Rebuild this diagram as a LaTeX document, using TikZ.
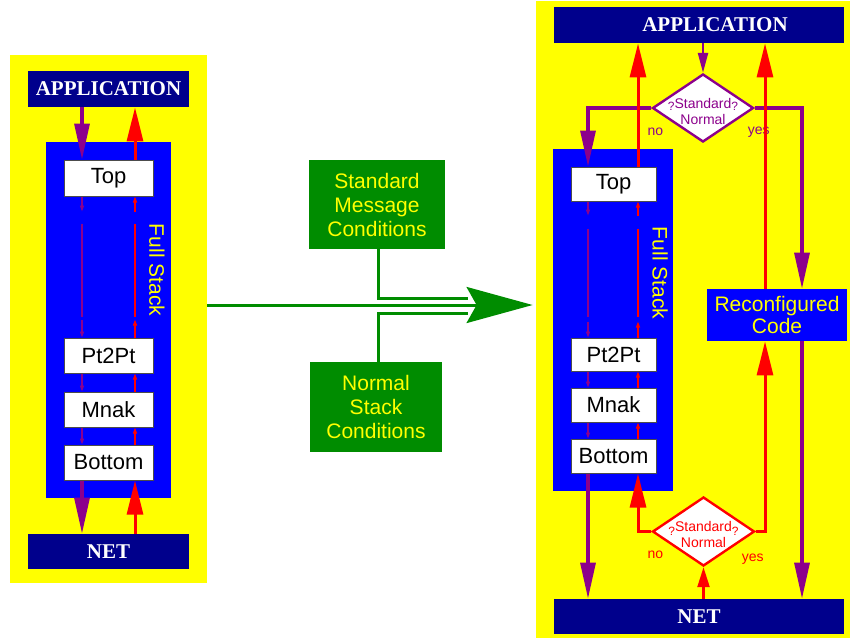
\documentclass[tikz,border=0pt]{standalone}
\usepackage{fontspec}
\setmainfont{Liberation Sans}
\newfontfamily\serifbf{Liberation Serif}
\usetikzlibrary{arrows.meta,shapes.geometric}
\definecolor{navy}{RGB}{0,0,140}
\definecolor{stkblue}{RGB}{0,0,255}
\definecolor{pnl}{RGB}{255,255,0}
\definecolor{purp}{RGB}{140,0,140}
\definecolor{grn}{RGB}{0,140,0}

\begin{document}
\begin{tikzpicture}[x=0.5pt, y=-0.5pt,
	panel/.style={fill=pnl, inner sep=0pt},
	endbox/.style={fill=navy, text=white, inner sep=0pt, minimum height=18pt, font=\serifbf\bfseries\fontsize{10.5}{12}\selectfont},
	stack/.style={fill=stkblue, inner sep=0pt},
	layer/.style={fill=white, draw=black!70, line width=0.5pt, inner sep=0pt, minimum height=17.5pt, font=\fontsize{11}{13}\selectfont},
	cond/.style={fill=grn, text=pnl, inner sep=0pt, align=center, font=\fontsize{10.5}{12}\selectfont},
	test/.style={diamond, fill=white, line width=1.2pt, inner sep=0pt},
	qtext/.style={align=center, font=\fontsize{7}{8}\selectfont},
	qmark/.style={},
	lbl/.style={font=\fontsize{7}{8}\selectfont},
	bigp/.style={purp, line width=1.6pt, -{Triangle[length=18pt,width=7.5pt]}},
	bigr/.style={red, line width=1.5pt, -{Triangle[length=17pt,width=8pt]}},
	medp/.style={purp, line width=1.2pt, -{Triangle[length=10pt,width=5pt]}},
	medr/.style={red, line width=1.2pt, -{Triangle[length=10pt,width=6pt]}},
	thinp/.style={purp, line width=0.6pt, -{Triangle[length=3pt,width=2pt]}},
	thinr/.style={red, line width=0.6pt, -{Triangle[length=3pt,width=2pt]}}]
	\useasboundingbox (0,0) rectangle (850,638);
	
	% left: full stack
	\node[panel, minimum width=98.5pt, minimum height=264pt](PAN1) at (108.5,319){};
	\node[endbox, minimum width=80.5pt](APP1) at (108.5,89){APPLICATION};
	\node[endbox, minimum width=80.5pt, minimum height=17.5pt](NET1) at (108.5,551.5){NET};
	\node[stack, minimum width=62.5pt, minimum height=178pt](STK1) at (108.5,320){};
	\node[layer, minimum width=44.5pt, minimum height=18pt](TOP1) at (108.5,178){Top};
	\node[layer, minimum width=44.5pt](PTP1) at (108.5,355.5){Pt2Pt};
	\node[layer, minimum width=44.5pt](MNK1) at (108.5,409.5){Mnak};
	\node[layer, minimum width=44.5pt](BOT1) at (108.5,462.5){Bottom};
	\node[rotate=-90, text=pnl, font=\fontsize{10.5}{12}\selectfont](FS1) at (157,270){Full Stack};
	
	\coordinate(DN1) at (82,0);
	\coordinate(UP1) at (135,0);
	
	\draw[bigp] (APP1.south -| DN1) -- (TOP1.north -| DN1);
	\draw[bigr] (TOP1.north -| UP1) -- (APP1.south -| UP1);
	\draw[bigp] (BOT1.south -| DN1) -- (NET1.north -| DN1);
	\draw[bigr] (NET1.north -| UP1) -- (BOT1.south -| UP1);
	
	% right: reconfigured stack
	\node[panel, minimum width=157pt, minimum height=318.5pt](PAN2) at (693,319.5){};
	\node[endbox, minimum width=145pt](APP2) at (699,25){\hspace{16pt}APPLICATION};
	\node[endbox, minimum width=145pt, minimum height=17.5pt](NET2) at (699,616.5){NET};
	\node[stack, minimum width=60pt, minimum height=171pt](STK2) at (613,320){};
	\node[layer, minimum width=42.5pt, minimum height=17pt](TOP2) at (613.5,184){Top};
	\node[layer, minimum width=42.5pt, minimum height=16.5pt](PTP2) at (613.5,354.5){Pt2Pt};
	\node[layer, minimum width=42.5pt, minimum height=17pt](MNK2) at (613.5,405){Mnak};
	\node[layer, minimum width=42.5pt, minimum height=17pt](BOT2) at (613.5,456){Bottom};
	\node[rotate=-90, text=pnl, font=\fontsize{10.5}{12}\selectfont](FS2) at (660,273){Full Stack};
	\node[stack, text=pnl, align=center, minimum width=70pt, minimum height=26pt, font=\fontsize{10.5}{11}\selectfont](REC) at (777,315){Reconfigured\\Code};
	
	\node[test, draw=purp, minimum width=50.5pt, minimum height=34pt](DQ1) at (703,108){};
	\node[qtext, text=purp](DT1) at (703,111){\raisebox{-1pt}{\fontsize{6}{6}\selectfont ?}Standard\raisebox{-1pt}{\fontsize{6}{6}\selectfont ?}\\Normal};
	\node[test, draw=red, minimum width=51pt, minimum height=34.5pt](DQ2) at (703.5,531.5){};
	\node[qtext, text=red](DT2) at (703.5,534){\raisebox{-2pt}{\fontsize{6}{6}\selectfont ?}Standard\raisebox{-2pt}{\fontsize{6}{6}\selectfont ?}\\Normal};
	
	\node[lbl, text=purp](NO1) at ([shift={(4,24)}]DQ1.west){no};
	\node[lbl, text=purp](YES1) at ([shift={(4,24)}]DQ1.east){yes};
	\node[lbl, text=red](NO2) at ([shift={(4,23.5)}]DQ2.west){no};
	\node[lbl, text=red](YES2) at ([shift={(-3,27.5)}]DQ2.east){yes};
	
	\coordinate(DN2) at (588,0);
	\coordinate(UP2) at (638,0);
	\coordinate(RR2) at (765,0);
	\coordinate(PR2) at (802,0);
	
	\draw[medp] (APP2.south -| DQ1) -- (DQ1.north);
	\draw[bigp] (DQ1.west) -| (TOP2.north -| DN2);
	\draw[bigp] (DQ1.east) -| (REC.north -| PR2);
	\draw[bigr] (TOP2.north -| UP2) -- (APP2.south -| UP2);
	\draw[bigr] (REC.north -| RR2) -- (APP2.south -| RR2);
	
	\draw[medr] (NET2.north -| DQ2) -- (DQ2.south);
	\draw[bigr] (DQ2.west) -| (BOT2.south -| UP2);
	\draw[bigr] (DQ2.east) -| (REC.south -| RR2);
	\draw[bigp] (BOT2.south -| DN2) -- (NET2.north -| DN2);
	\draw[bigp] (REC.south -| PR2) -- (NET2.north -| PR2);
	
	% thin arrows inside both stacks
	\foreach \s/\a/\b in {1/15/18, 2/14/16}{
		\draw[thinp] (TOP\s.south -| DN\s) -- ++(0,\a);
		\draw[purp, line width=0.6pt] (TOP\s.south -| DN\s) ++(0,27) -- ([yshift=10.5pt]PTP\s.north -| DN\s);
		\draw[thinp] ([yshift=\b*0.5pt]PTP\s.north -| DN\s) -- (PTP\s.north -| DN\s);
		\draw[thinr] ([yshift=-\a*0.5pt]TOP\s.south -| UP\s) -- (TOP\s.south -| UP\s);
		\draw[red, line width=0.6pt] (TOP\s.south -| UP\s) ++(0,27) -- ([yshift=10.5pt]PTP\s.north -| UP\s);
		\draw[thinr] (PTP\s.north -| UP\s) -- ([yshift=\b*0.5pt]PTP\s.north -| UP\s);
	}
	\foreach \a/\b/\s in {PTP1/MNK1/1, MNK1/BOT1/1, PTP2/MNK2/2, MNK2/BOT2/2}{
		\draw[thinp] (\a.south -| DN\s) -- (\b.north -| DN\s);
		\draw[thinr] (\b.north -| UP\s) -- (\a.south -| UP\s);
	}
	
	% conditions
	\node[cond, minimum width=68pt, minimum height=44.5pt](SMC) at (377,204.5){Standard\\Message\\Conditions};
	\node[cond, minimum width=66pt, minimum height=45pt](NSC) at (376,407){Normal\\Stack\\Conditions};
	\coordinate(TIP) at (468,305);
	
	\draw[grn, line width=1.5pt] (SMC.south -| 378,0) |- ([yshift=3.5pt]TIP);
	\draw[grn, line width=1.5pt] (NSC.north -| 378,0) |- ([yshift=-4pt]TIP);
	\draw[grn, line width=1.5pt, shorten >=1.5pt, -{Stealth[length=33pt,width=18pt,inset=5pt]}] (PAN1.east |- TIP) -- (PAN2.west |- TIP);
\end{tikzpicture}
\end{document}
